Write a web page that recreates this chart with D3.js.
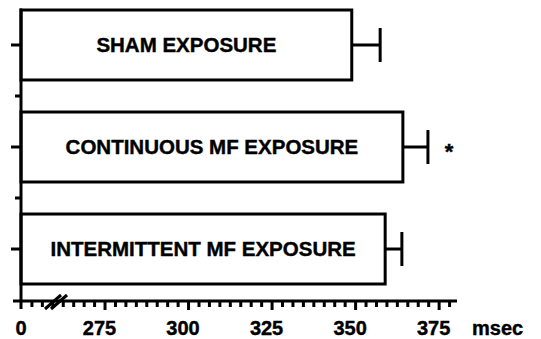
<!DOCTYPE html>
<html>
<head>
<meta charset="utf-8">
<script src="https://cdn.jsdelivr.net/npm/d3@7"></script>
<style>
  html, body { margin: 0; padding: 0; background: #fff; }
  svg { display: block; }
  text { font-family: "Liberation Sans", Arial, Helvetica, sans-serif; font-weight: bold; fill: #000; stroke: #000; stroke-width: 0.4px; }
</style>
</head>
<body>
<svg id="chart" width="541" height="339"></svg>
<script>
// Reaction time (msec) by exposure condition, mean with SE bar
const categories = ["SHAM EXPOSURE", "CONTINUOUS MF EXPOSURE", "INTERMITTENT MF EXPOSURE"];
const means = [349, 364.3, 359];
const errors = [8.5, 7.5, 5];
const significant = [false, true, false];
const tickValues = [275, 300, 325, 350, 375];
const tickLabels = ["275", "300", "325", "350", "375"];
const originLabel = "0";
const unitLabel = "msec";
const axisStart = 250;   // broken-axis origin, labelled "0"
const axisEnd = 380.5;
const minorStep = 25 / 8;

const svg = d3.select("#chart");
const ink = "#000";
const axisX = 21, axisY = 301;

const x = d3.scaleLinear().domain([axisStart, axisEnd]).range([axisX, 457]);
const y = d3.scaleBand().domain(categories).range([10, 284]).paddingInner(0.314).paddingOuter(0);

const data = categories.map((c, i) => ({ c, m: means[i], e: errors[i], s: significant[i] }));

// bars
svg.append("g").selectAll("rect").data(data).join("rect")
  .attr("x", axisX)
  .attr("y", d => y(d.c))
  .attr("width", d => x(d.m) - axisX)
  .attr("height", y.bandwidth())
  .attr("fill", "#fff")
  .attr("stroke", ink)
  .attr("stroke-width", 3);

// error bars
const eb = svg.append("g").attr("stroke", ink).attr("stroke-width", 3);
data.forEach(d => {
  const cy = y(d.c) + y.bandwidth() / 2;
  eb.append("line").attr("x1", x(d.m)).attr("x2", x(d.m + d.e)).attr("y1", cy).attr("y2", cy);
  eb.append("line").attr("x1", x(d.m + d.e)).attr("x2", x(d.m + d.e)).attr("y1", cy - 17).attr("y2", cy + 17);
});

// significance marks
svg.append("g").selectAll("text").data(data.filter(d => d.s)).join("text")
  .attr("x", d => x(d.m + d.e) + 21)
  .attr("y", d => y(d.c) + y.bandwidth() / 2 + 12)
  .attr("text-anchor", "middle")
  .attr("font-size", 22)
  .text("*");

// bar labels
svg.append("g").selectAll("text").data(data).join("text")
  .attr("x", d => (axisX + x(d.m)) / 2)
  .attr("y", d => y(d.c) + y.bandwidth() / 2 + 7)
  .attr("text-anchor", "middle")
  .attr("font-size", 20.5)
  .text(d => d.c);

// y axis with ticks at bar centres and between bars
const ya = svg.append("g").attr("stroke", ink).attr("stroke-width", 3);
ya.append("line").attr("x1", axisX).attr("x2", axisX).attr("y1", 8.5).attr("y2", 309);
categories.forEach((c, i) => {
  const cy = y(c) + y.bandwidth() / 2;
  ya.append("line").attr("x1", axisX - 10).attr("x2", axisX).attr("y1", cy).attr("y2", cy);
  if (i < categories.length - 1) {
    const gy = (y(c) + y.bandwidth() + y(categories[i + 1])) / 2;
    ya.append("line").attr("x1", axisX - 6).attr("x2", axisX).attr("y1", gy).attr("y2", gy);
  }
});

// x axis
const minorTicks = d3.range(axisStart + minorStep, axisEnd, minorStep)
  .filter(v => !tickValues.some(t => Math.abs(t - v) < 1e-6));
const xa = d3.axisBottom(x).tickValues(minorTicks).tickSize(6).tickFormat("");
const gx = svg.append("g").attr("transform", `translate(0,${axisY})`).call(xa);
gx.select(".domain").remove();
gx.selectAll(".tick line").attr("stroke", ink).attr("stroke-width", 3);

const xaMajor = d3.axisBottom(x).tickValues(tickValues).tickSize(9).tickFormat("");
const gxm = svg.append("g").attr("transform", `translate(0,${axisY})`).call(xaMajor);
gxm.select(".domain").remove();
gxm.selectAll(".tick line").attr("stroke", ink).attr("stroke-width", 3);

svg.append("line").attr("x1", 13).attr("x2", x(axisEnd)).attr("y1", axisY).attr("y2", axisY)
  .attr("stroke", ink).attr("stroke-width", 3);

// axis break marks
const brk = svg.append("g").attr("stroke", ink).attr("stroke-width", 3);
[0, 6].forEach(dx => {
  brk.append("line").attr("x1", 45 + dx).attr("y1", 309).attr("x2", 61 + dx).attr("y2", 295);
});

// tick labels
const labels = svg.append("g").attr("font-size", 20).attr("text-anchor", "middle");
labels.append("text").attr("x", axisX).attr("y", 335).text(originLabel);
labels.selectAll(null).data(tickValues).join("text")
  .attr("x", d => x(d) - 5)
  .attr("y", 335)
  .text((d, i) => tickLabels[i]);
svg.append("text").attr("x", 472).attr("y", 335).attr("font-size", 20).text(unitLabel);
</script>
</body>
</html>
